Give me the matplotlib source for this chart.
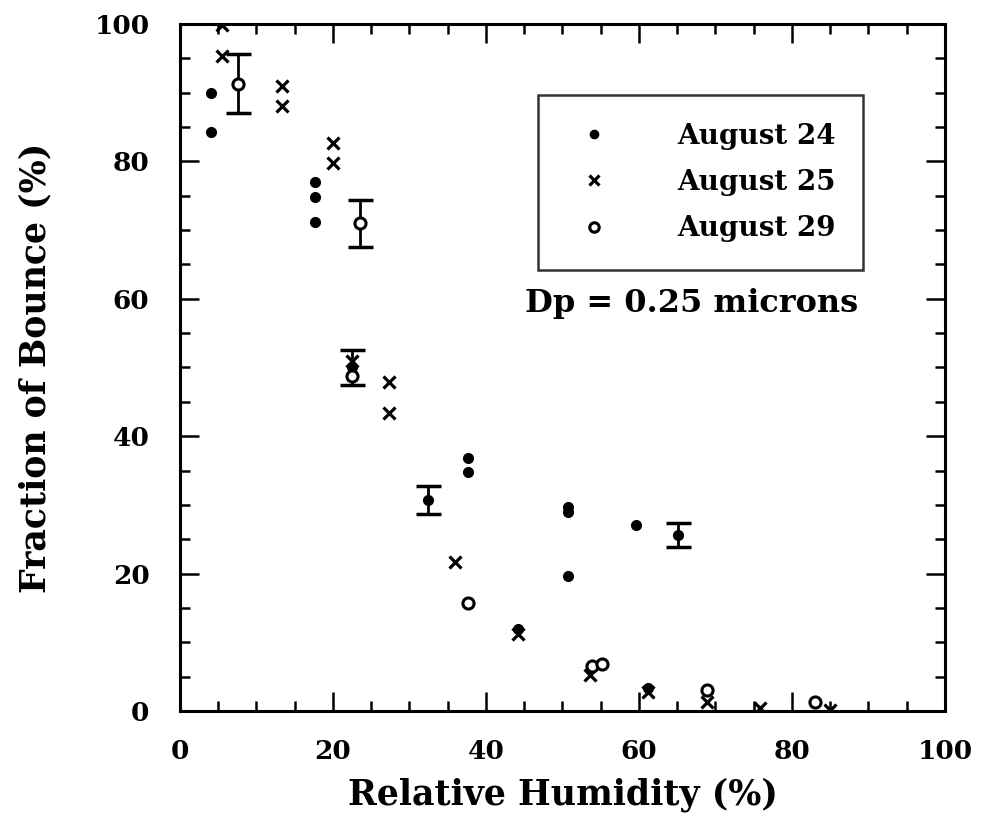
#!/usr/bin/env python3
"""Fraction of bounce vs relative humidity, Dp = 0.25 microns."""

import matplotlib

matplotlib.use("Agg")
import matplotlib.pyplot as plt
from matplotlib.ticker import MultipleLocator

# August 24 (filled dots)
aug24_rh = [4.1, 4.1, 17.6, 17.6, 17.6, 22.5, 32.4, 37.6, 37.6, 44.2,
            50.7, 50.7, 50.7, 59.6, 61.2, 65.1]
aug24_bounce = [90.0, 84.3, 77.0, 74.8, 71.2, 50.0, 30.7, 36.8, 34.8, 11.9,
                29.7, 29.0, 19.7, 27.1, 3.3, 25.6]

# August 25 (crosses)
aug25_rh = [5.5, 5.5, 13.3, 13.3, 20.0, 20.0, 22.5, 27.3, 27.3, 35.9,
            44.2, 53.6, 61.2, 68.9, 75.8, 85.0]
aug25_bounce = [99.9, 95.3, 91.0, 88.1, 82.7, 79.8, 51.0, 47.9, 43.4, 21.7,
                11.2, 5.2, 2.8, 1.3, 0.4, 0.2]

# August 29 (open circles)
aug29_rh = [7.6, 23.5, 22.5, 37.6, 53.8, 55.2, 68.9, 83.0]
aug29_bounce = [91.3, 71.0, 48.8, 15.7, 6.5, 6.8, 3.0, 1.3]

# error bars (x, y, half-width)
err_rh = [7.6, 23.5, 22.5, 32.4, 65.1]
err_bounce = [91.3, 71.0, 50.0, 30.7, 25.6]
err_size = [4.3, 3.4, 2.6, 2.0, 1.7]

SERIF = ["DejaVu Serif"]


def main() -> None:
    plt.rcParams["font.family"] = SERIF
    plt.rcParams["font.weight"] = "bold"

    fig = plt.figure(figsize=(9.82, 8.38), dpi=100)
    ax = fig.add_axes([0.1833, 0.1516, 0.779, 0.8198])

    ax.errorbar(err_rh, err_bounce, yerr=err_size, fmt="none", ecolor="black",
                elinewidth=2, capsize=9, capthick=2.5, zorder=2)

    ax.plot(aug24_rh, aug24_bounce, "o", color="black", markersize=7,
            linestyle="none", label="August 24", zorder=3)
    ax.plot(aug25_rh, aug25_bounce, "x", color="black", markersize=9,
            markeredgewidth=2.3, linestyle="none", label="August 25", zorder=3)
    ax.plot(aug29_rh, aug29_bounce, "o", markerfacecolor="white",
            markeredgecolor="black", markeredgewidth=2.2, markersize=8,
            linestyle="none", label="August 29", zorder=4)

    ax.set_xlim(0, 100)
    ax.set_ylim(0, 100)
    ax.xaxis.set_major_locator(MultipleLocator(20))
    ax.xaxis.set_minor_locator(MultipleLocator(5))
    ax.yaxis.set_major_locator(MultipleLocator(20))
    ax.yaxis.set_minor_locator(MultipleLocator(5))
    ax.tick_params(which="both", direction="in", top=True, right=True,
                   width=1.8, labelsize=19)
    ax.tick_params(axis="x", which="both", pad=20)
    ax.tick_params(axis="y", which="both", pad=22)
    ax.tick_params(which="major", length=14)
    ax.tick_params(which="minor", length=7)
    for lab in ax.get_xticklabels() + ax.get_yticklabels():
        lab.set_fontweight("bold")
    for sp in ax.spines.values():
        sp.set_linewidth(2.2)

    ax.set_xlabel("Relative Humidity (%)", fontsize=25, fontweight="bold",
                  labelpad=10)
    ax.set_ylabel("Fraction of Bounce (%)", fontsize=25, fontweight="bold",
                  labelpad=30)

    ax.text(45.1, 59.3, "Dp = 0.25 microns", fontsize=23, fontweight="bold",
            ha="left", va="center")

    leg = ax.legend(loc="upper right", bbox_to_anchor=(0.893, 0.897),
                    borderaxespad=0, frameon=True, fancybox=False,
                    edgecolor="black", fontsize=20, handletextpad=2.0,
                    borderpad=1.0, labelspacing=0.7, handlelength=2.0,
                    markerscale=0.85)
    leg.get_frame().set_linewidth(1.8)
    for t in leg.get_texts():
        t.set_fontweight("bold")

    fig.savefig("out.png", dpi=100)
    plt.close(fig)


if __name__ == "__main__":
    main()
